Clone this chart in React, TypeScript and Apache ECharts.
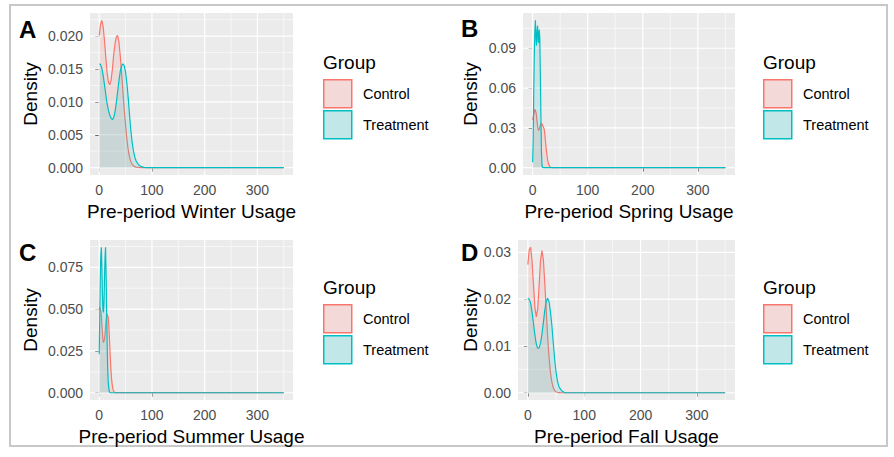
import React, { useEffect, useRef } from "react";
import * as echarts from "echarts";

const FONT = "'Liberation Sans', Arial, Helvetica, sans-serif";
const CONTROL_COLOR = "#F8766D";
const TREAT_COLOR = "#00BFC4";
const CONTROL_FILL = "rgba(248,118,109,0.2)";
const TREAT_FILL = "rgba(0,191,196,0.2)";

const groups = ["Control", "Treatment"];
const legendTitle = "Group";
const panelLabels = ["A", "B", "C", "D"];
const xTitles = [
  "Pre-period Winter Usage",
  "Pre-period Spring Usage",
  "Pre-period Summer Usage",
  "Pre-period Fall Usage",
];
const yTitle = "Density";
const xRange = [0, 350];
const xTicks = [0, 100, 200, 300];
const xMinorTicks = [50, 150, 250, 350];
const yTicksA = [0, 0.005, 0.01, 0.015, 0.02];
const yTicksB = [0, 0.03, 0.06, 0.09];
const yTicksC = [0, 0.025, 0.05, 0.075];
const yTicksD = [0, 0.01, 0.02, 0.03];
const yMinorA = [0.0025, 0.0075, 0.0125, 0.0175, 0.0225];
const yMinorB = [0.015, 0.045, 0.075, 0.105];
const yMinorC = [0.0125, 0.0375, 0.0625, 0.0875];
const yMinorD = [0.005, 0.015, 0.025];
const yDecimals = [3, 2, 3, 2];

// Panel A: winter
const winterX = [0, 2.5, 5, 7.5, 10, 12.5, 15, 17.5, 20, 22.5, 25, 27.5, 30, 32.5, 35, 37.5, 40, 42.5, 45, 47.5, 50, 52.5, 55, 57.5, 60, 62.5, 65, 67.5, 70, 75, 80, 85, 90, 350];
const winterControl = [0.0201, 0.0218, 0.0224, 0.0214, 0.0193, 0.0167, 0.0144, 0.0130, 0.0126, 0.0133, 0.0150, 0.0172, 0.0189, 0.0199, 0.0201, 0.0190, 0.0169, 0.0143, 0.0115, 0.0088, 0.0064, 0.0043, 0.0027, 0.0016, 0.0009, 0.0005, 0.0003, 0.00015, 0.00008, 0.00002, 0, 0, 0, 0];
const winterTreatment = [0.0158, 0.0157, 0.0151, 0.0140, 0.0126, 0.0111, 0.0097, 0.0087, 0.0080, 0.0075, 0.0073, 0.0076, 0.0085, 0.0099, 0.0116, 0.0133, 0.0147, 0.0155, 0.0158, 0.0155, 0.0145, 0.0128, 0.0106, 0.0080, 0.0056, 0.0038, 0.0025, 0.0016, 0.0010, 0.0004, 0.00015, 0.00005, 0.00001, 0];

// Panel B: spring
const springX = [0, 1, 2, 3, 4, 5, 6, 7, 8, 9, 10, 11, 12, 13, 14, 15, 16, 17, 18, 19, 20, 21, 22, 23, 24, 25, 26, 27, 28, 29, 30, 31, 32, 33, 34, 35, 36, 350];
const springControl = [0.036, 0.038, 0.040, 0.042, 0.044, 0.044, 0.042, 0.039, 0.035, 0.031, 0.029, 0.028, 0.028, 0.030, 0.032, 0.033, 0.033, 0.033, 0.032, 0.031, 0.030, 0.029, 0.026, 0.021, 0.017, 0.013, 0.0093, 0.0065, 0.0043, 0.0027, 0.0017, 0.0010, 0.0005, 0.0002, 0.0001, 0.00003, 0, 0];
const springTreatment = [0.004, 0.020, 0.057, 0.085, 0.102, 0.111, 0.098, 0.092, 0.103, 0.107, 0.096, 0.094, 0.104, 0.098, 0.070, 0.040, 0.012, 0.002, 0.0003, 0, 0, 0, 0, 0, 0, 0, 0, 0, 0, 0, 0, 0, 0, 0, 0, 0, 0, 0];

// Panel C: summer
const summerX = [0, 1, 2, 3, 4, 5, 6, 7, 8, 9, 10, 11, 12, 13, 14, 15, 16, 17, 18, 19, 20, 21, 22, 23, 24, 25, 26, 27, 28, 29, 30, 31, 32, 350];
const summerControl = [0.050, 0.051, 0.051, 0.049, 0.046, 0.041, 0.036, 0.032, 0.030, 0.030, 0.032, 0.035, 0.039, 0.043, 0.046, 0.047, 0.047, 0.045, 0.041, 0.035, 0.028, 0.021, 0.015, 0.010, 0.0065, 0.0040, 0.0023, 0.0012, 0.0006, 0.0003, 0.0001, 0.00004, 0, 0];
const summerTreatment = [0.023, 0.045, 0.068, 0.082, 0.087, 0.076, 0.060, 0.050, 0.048, 0.054, 0.068, 0.081, 0.087, 0.072, 0.050, 0.030, 0.015, 0.007, 0.003, 0.001, 0.0002, 0, 0, 0, 0, 0, 0, 0, 0, 0, 0, 0, 0, 0];

// Panel D: fall
const fallX = [0, 2.5, 5, 7.5, 10, 12.5, 15, 17.5, 20, 22.5, 25, 27.5, 30, 32.5, 35, 37.5, 40, 42.5, 45, 47.5, 50, 52.5, 55, 57.5, 60, 65, 70, 350];
const fallControl = [0.0274, 0.0306, 0.0311, 0.0280, 0.0230, 0.0182, 0.0162, 0.0180, 0.0230, 0.0283, 0.0304, 0.0284, 0.0235, 0.0178, 0.0122, 0.0077, 0.0044, 0.0023, 0.0011, 0.0005, 0.0002, 0.0001, 0.00004, 0.00001, 0, 0, 0, 0];
const fallTreatment = [0.0202, 0.0200, 0.0191, 0.0172, 0.0148, 0.0123, 0.0104, 0.0095, 0.0096, 0.0106, 0.0125, 0.0150, 0.0176, 0.0195, 0.0202, 0.0195, 0.0174, 0.0145, 0.0108, 0.0072, 0.0044, 0.0025, 0.0014, 0.0008, 0.0004, 0.00004, 0, 0];

const panelX = [winterX, springX, summerX, fallX];
const panelControl = [winterControl, springControl, summerControl, fallControl];
const panelTreatment = [winterTreatment, springTreatment, summerTreatment, fallTreatment];
const panelYTicks = [yTicksA, yTicksB, yTicksC, yTicksD];
const panelYMinor = [yMinorA, yMinorB, yMinorC, yMinorD];

// layout
const grids = [
  { left: 90, top: 13, width: 203, height: 162 },
  { left: 523, top: 13, width: 212, height: 162 },
  { left: 90, top: 240, width: 203, height: 160 },
  { left: 518, top: 240, width: 217, height: 160 },
];
const yNameGaps = [50, 43, 50, 38];
const panelLabelPos = [
  [19, 29],
  [461, 28],
  [19, 252.5],
  [461, 252.5],
];
const legendPos = [
  [323, 0],
  [763, 0],
  [323, 225],
  [763, 225],
];

export default function App() {
  const ref = useRef<HTMLDivElement>(null);
  useEffect(() => {
    if (!ref.current) return;
    const chart = echarts.init(ref.current, null, { renderer: "svg" });
    const expand = (xRange[1] - xRange[0]) * 0.05;
    const xMin = xRange[0] - expand;
    const xMax = xRange[1] + expand;
    const yMaxData = panelX.map((_, i) =>
      Math.max(...panelControl[i], ...panelTreatment[i])
    );

    const xAxes: any[] = [];
    const yAxes: any[] = [];
    const series: any[] = [];
    grids.forEach((g, i) => {
      xAxes.push({
        gridIndex: i,
        type: "value",
        min: xMin,
        max: xMax,
        axisLine: { show: false },
        axisTick: {
          show: true,
          length: 4,
          customValues: xTicks,
          lineStyle: { color: "#333333", width: 1 },
        },
        axisLabel: {
          customValues: xTicks,
          color: "#4D4D4D",
          fontSize: 14,
          fontFamily: FONT,
          margin: 8,
        },
        splitLine: { show: false },
        name: xTitles[i],
        nameLocation: "middle",
        nameGap: 27,
        nameTextStyle: { fontSize: 19, color: "#000", fontFamily: FONT },
      });
      const M = yMaxData[i];
      yAxes.push({
        gridIndex: i,
        type: "value",
        min: -0.05 * M,
        max: 1.05 * M,
        axisLine: { show: false },
        axisTick: {
          show: true,
          length: 4,
          customValues: panelYTicks[i],
          lineStyle: { color: "#333333", width: 1 },
        },
        axisLabel: {
          customValues: panelYTicks[i],
          color: "#4D4D4D",
          fontSize: 14,
          fontFamily: FONT,
          margin: 7,
          formatter: (v: number) => v.toFixed(yDecimals[i]),
        },
        splitLine: { show: false },
        name: yTitle,
        nameLocation: "middle",
        nameRotate: 90,
        nameGap: yNameGaps[i],
        nameTextStyle: { fontSize: 19, color: "#000", fontFamily: FONT },
      });
      const xs = panelX[i];
      series.push({
        type: "line",
        name: groups[0],
        xAxisIndex: i,
        yAxisIndex: i,
        data: xs.map((x, j) => [x, panelControl[i][j]]),
        showSymbol: false,
        symbol: "none",
        z: 3,
        lineStyle: { color: CONTROL_COLOR, width: 1.2 },
        itemStyle: { color: CONTROL_COLOR },
        areaStyle: { color: CONTROL_FILL, origin: "auto" },
      });
      series.push({
        type: "line",
        name: groups[1],
        xAxisIndex: i,
        yAxisIndex: i,
        data: xs.map((x, j) => [x, panelTreatment[i][j]]),
        showSymbol: false,
        symbol: "none",
        z: 4,
        lineStyle: { color: TREAT_COLOR, width: 1.2 },
        itemStyle: { color: TREAT_COLOR },
        areaStyle: { color: TREAT_FILL, origin: "auto" },
      });
    });

    chart.setOption({
      animation: false,
      backgroundColor: "#ffffff",
      grid: grids.map((g) => ({
        ...g,
        show: true,
        backgroundColor: "#EBEBEB",
        borderWidth: 0,
        containLabel: false,
      })),
      xAxis: xAxes,
      yAxis: yAxes,
      series,
    });

    const graphics: any[] = [];
    graphics.push({
      type: "rect",
      shape: { x: 10, y: 5, width: 877, height: 441 },
      style: { fill: "none", stroke: "#C8C8C8", lineWidth: 2 },
      z: 0,
      silent: true,
    });
    grids.forEach((g, i) => {
      const px = (v: number) => chart.convertToPixel({ xAxisIndex: i } as any, v) as number;
      const py = (v: number) => chart.convertToPixel({ yAxisIndex: i } as any, v) as number;
      const M = yMaxData[i];
      const yTop = py(1.05 * M);
      const yBot = py(-0.05 * M);
      const xL = px(xMin);
      const xR = px(xMax);
      const addV = (v: number, w: number) =>
        graphics.push({
          type: "line",
          shape: { x1: px(v), y1: yTop, x2: px(v), y2: yBot },
          style: { stroke: "#FFFFFF", lineWidth: w },
          z: 1,
          silent: true,
        });
      const addH = (v: number, w: number) =>
        graphics.push({
          type: "line",
          shape: { x1: xL, y1: py(v), x2: xR, y2: py(v) },
          style: { stroke: "#FFFFFF", lineWidth: w },
          z: 1,
          silent: true,
        });
      xMinorTicks.forEach((v) => addV(v, 0.6));
      panelYMinor[i].forEach((v) => addH(v, 0.6));
      xTicks.forEach((v) => addV(v, 1.2));
      panelYTicks[i].forEach((v) => addH(v, 1.2));

      // panel tag
      graphics.push({
        type: "text",
        x: panelLabelPos[i][0],
        y: panelLabelPos[i][1],
        z: 5,
        style: {
          text: panelLabels[i],
          fontSize: 24,
          fontWeight: "bold",
          fontFamily: FONT,
          fill: "#000",
          align: "left",
          verticalAlign: "middle",
          textAlign: "left",
          textVerticalAlign: "middle",
        },
      });

      // legend
      const [lx, oy] = legendPos[i];
      graphics.push({
        type: "text",
        x: lx,
        y: 62 + oy,
        z: 5,
        style: {
          text: legendTitle,
          fontSize: 19,
          fontFamily: FONT,
          fill: "#000",
          align: "left",
          verticalAlign: "middle",
          textAlign: "left",
          textVerticalAlign: "middle",
        },
      });
      const keys = [
        { name: groups[0], stroke: CONTROL_COLOR, fill: CONTROL_FILL, y: 79 },
        { name: groups[1], stroke: TREAT_COLOR, fill: TREAT_FILL, y: 110 },
      ];
      keys.forEach((k) => {
        graphics.push({
          type: "rect",
          shape: { x: lx + 0.75, y: k.y + oy + 0.75, width: 28, height: 28 },
          style: { fill: "#F2F2F2", stroke: "none" },
          z: 5,
          silent: true,
        });
        graphics.push({
          type: "rect",
          shape: { x: lx + 0.75, y: k.y + oy + 0.75, width: 28, height: 28 },
          style: { fill: k.fill, stroke: k.stroke, lineWidth: 1.5 },
          z: 6,
          silent: true,
        });
        graphics.push({
          type: "text",
          x: lx + 40,
          y: k.y + oy + 15,
          z: 6,
          style: {
            text: k.name,
            fontSize: 14.5,
            fontFamily: FONT,
            fill: "#000",
            align: "left",
            verticalAlign: "middle",
            textAlign: "left",
            textVerticalAlign: "middle",
          },
        });
      });
    });
    chart.setOption({ graphic: graphics });

    return () => chart.dispose();
  }, []);
  return (
    <div
      ref={ref}
      style={{ position: "absolute", left: 0, top: 0, width: 894, height: 457, background: "#fff" }}
    />
  );
}
